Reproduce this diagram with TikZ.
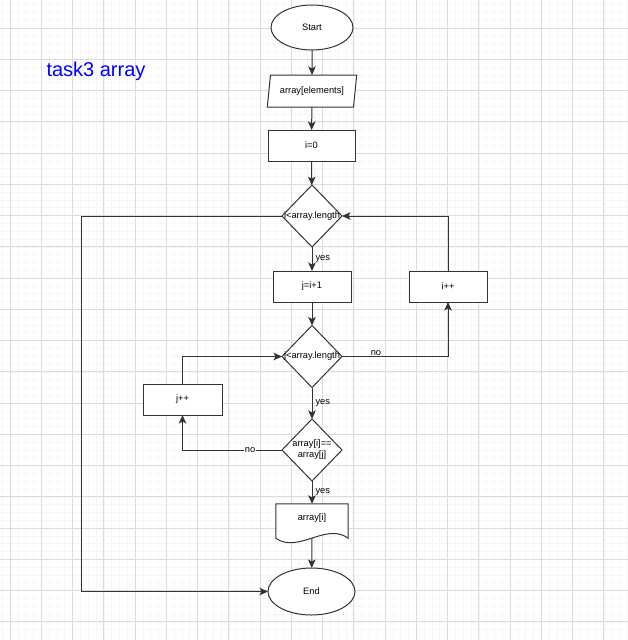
\documentclass[tikz,border=0pt]{standalone}
\usepackage{fontspec}
\setmainfont{Liberation Sans}
\usetikzlibrary{shapes.geometric,arrows.meta}
\definecolor{gridmajor}{HTML}{DCDCDC}
\definecolor{gridminor}{HTML}{F6F6F6}
\definecolor{stroke}{HTML}{333333}
\newcommand{\dtext}[1]{\makebox[0pt]{\begin{tabular}{@{}c@{}}#1\end{tabular}}}

\begin{document}
\begin{tikzpicture}[x=1pt,y=-1pt,>={Stealth[length=8.5pt,width=7.5pt,inset=2pt]},
  font=\fontsize{9.3}{11}\selectfont,
  flowbox/.style={draw=stroke,line width=1pt,fill=white,inner sep=0pt,outer sep=0pt},
  process/.style={flowbox,rectangle,minimum width=78pt,minimum height=31pt},
  terminal/.style={flowbox,ellipse,minimum width=82pt,minimum height=45pt},
  io/.style={flowbox,trapezium,trapezium left angle=74,trapezium right angle=106,
    trapezium stretches=true,minimum width=90pt,minimum height=32pt},
  decision/.style={flowbox,diamond,minimum width=60pt,minimum height=62pt},
  flow/.style={draw=stroke,line width=1pt},
  lbl/.style={inner sep=1pt}]
  \useasboundingbox (0,0) rectangle (628,640);
  % grid
  \foreach \k in {0,...,80} {
    \draw[gridminor,line width=.5pt] ({2.1875+\k*7.8125},0) -- ++(0,640);
    \draw[gridminor,line width=.5pt] (0,{4.5625+\k*7.8125}) -- ++(628,0);
  }
  \foreach \k in {0,...,20} {
    \draw[gridmajor,line width=.8pt] ({10+\k*31.25},0) -- ++(0,640);
    \draw[gridmajor,line width=.8pt] (0,{28+\k*31.25-31.25}) -- ++(628,0);
  }
  \node[blue,font=\fontsize{20}{24}\selectfont] (title) at (96,71) {task3 array};

  % nodes
  \node[terminal] (start) at (312,27.5) {Start};
  \node[io] (input) at (312,91) {array[elements]};
  \node[process,minimum width=87pt] (init) at (311.5,145.5) {i=0};
  \node[decision] (outer) at (312,216) {\dtext{i<array.length}};
  \node[process] (setj) at (312,286.5) {j=i+1};
  \node[decision] (inner) at (312,356.5) {\dtext{j<array.length}};
  \node[process] (inci) at (448,286.5) {i++};
  \node[decision] (cmp) at (312,450) {\dtext{array[i]==\\array[j]}};
  \node[process,minimum width=79pt] (incj) at (182.5,399.5) {j++};
  \node[rectangle,minimum width=72pt,minimum height=34pt,inner sep=0pt] (out) at (312,521) {};
  \draw[flowbox] (out.north west) -- (out.north east) -- (out.south east)
    .. controls (326,522) and (298,554) .. (out.south west) -- cycle;
  \node at (312,518) {array[i]};
  \node[terminal,minimum width=87pt,minimum height=47pt] (end) at (311.5,591.5) {End};
  \coordinate (loopL) at (81,591.5);

  % connectors
  \draw[flow,->] (start) -- (input);
  \draw[flow,->] (input) -- (init);
  \draw[flow,->] (init) -- (outer);
  \draw[flow,->] (outer) -- node[lbl,right=2pt] {yes} (setj);
  \draw[flow,->] (setj) -- (inner);
  \draw[flow,->] (inner.east) -| node[lbl,pos=.16,above=-1pt] {no} (inci.south);
  \draw[flow,->] (inci.north) |- (outer.east);
  \draw[flow,->] (outer.west) -| (loopL) -- (end.west);
  \draw[flow,->] (inner) -- node[lbl,right=2pt] {yes} (cmp);
  \draw[flow,->] (cmp.west) -| node[lbl,pos=.16,fill=white] {no} (incj.south);
  \draw[flow,->] (incj.north) |- (inner.west);
  \draw[flow,->] (cmp) -- node[lbl,right=2pt] {yes} (out);
  \draw[flow,->] (out.south) -- (end);
\end{tikzpicture}
\end{document}
